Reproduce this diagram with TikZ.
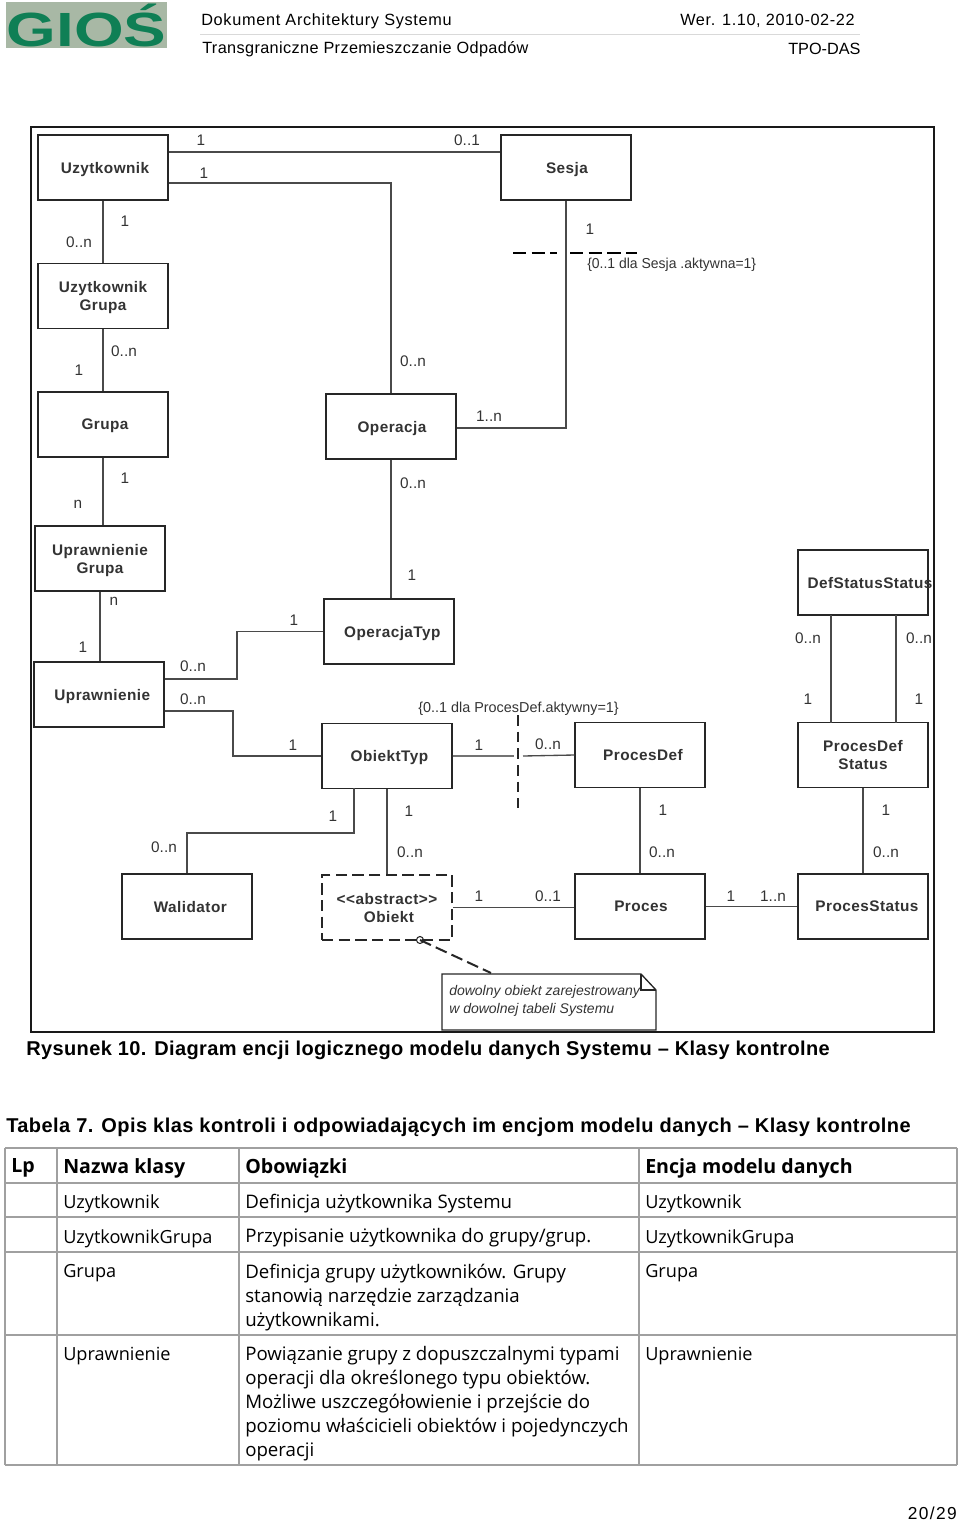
\documentclass[tikz,border=0pt]{standalone}
\usepackage{fontspec}
\setmainfont{Liberation Sans}
\newfontfamily\cellfont{Open Sans}
\definecolor{linegray}{HTML}{4A4A4A}
\definecolor{textgray}{HTML}{333333}
\definecolor{tablegray}{HTML}{A0A0A0}
\definecolor{logoback}{HTML}{A8B8A5}
\definecolor{logogreen}{HTML}{0F7F55}
\newcommand{\boxtext}[2]{\hspace*{#1pt}#2}
\tikzset{
  umlbox/.style={draw=black!85, line width=1pt, fill=white, minimum width=97.5pt, minimum height=48.75pt,
    inner sep=0pt, align=center, text=textgray, text depth=0pt,
    font=\fontsize{11.5}{13.5}\selectfont\bfseries\addfontfeature{LetterSpace=3}},
  conn/.style={draw=linegray, line width=1pt},
  mult/.style={inner sep=0pt, yshift=-.75pt, text=textgray, font=\fontsize{11.5}{13}\selectfont},
  constraint/.style={inner sep=0pt, anchor=west, yshift=-1.5pt, text=textgray, font=\fontsize{10.8}{13}\selectfont},
  plainline/.style={inner sep=0pt, anchor=west, yshift=-1.5pt, font=\fontsize{12.2}{14}\selectfont},
  titleline/.style={inner sep=0pt, anchor=west, yshift=-1.5pt, font=\fontsize{15}{18}\selectfont\bfseries\addfontfeature{LetterSpace=1.9}},
  cell/.style={inner sep=0pt, anchor=north west, align=left, font=\cellfont\fontsize{13.6}{18}\selectfont},
  dutycell/.style={cell, font=\cellfont\fontsize{14}{18}\selectfont},
  headcell/.style={inner sep=0pt, anchor=west, yshift=-1.5pt, font=\cellfont\fontsize{14.7}{18}\selectfont\bfseries},
}
\begin{document}
\begin{tikzpicture}[x=0.75pt, y=-0.75pt]
  \useasboundingbox (0,0) rectangle (960,1521);

  % header
  \node[fill=logoback, minimum width=121pt, minimum height=34.5pt, inner sep=0pt] (logoback) at (86.5,25) {};
  \node[inner sep=0pt, text=logogreen, xscale=1.33, font=\fontsize{36}{36}\selectfont\bfseries] (logo) at (logoback.center) {GIOŚ};
  \node[plainline] (doctitle) at (201,19) {\addfontfeature{LetterSpace=4.3}Dokument Architektury Systemu};
  \node[plainline] (docversion) at (680,19) {\addfontfeature{LetterSpace=3.8}Wer. 1.10, 2010-02-22};
  \node[plainline] (docname) at (202,47) {\addfontfeature{LetterSpace=2.3}Transgraniczne Przemieszczanie Odpadów};
  \node[plainline] (docshort) at (788,47) {TPO-DAS};
  \draw[black!15] (200,34) -- (860,34);

  % frame of the figure
  \draw[black!90, line width=1pt] (31,127) rectangle (934,1032);

  % classes
  \node[umlbox] (uzytkownik) at (103,167.5) {\boxtext{3}{Uzytkownik}};
  \node[umlbox] (sesja) at (566,167.5) {\boxtext{1.5}{Sesja}};
  \node[umlbox] (uzytkownikgrupa) at (103,296) {Uzytkownik\\Grupa};
  \node[umlbox] (grupa) at (103,424.5) {\boxtext{3}{Grupa}};
  \node[umlbox] (operacja) at (391,426.5) {\boxtext{1.5}{Operacja}};
  \node[umlbox] (uprawnieniegrupa) at (100,558.5) {Uprawnienie\\Grupa};
  \node[umlbox] (operacjatyp) at (389,631.5) {\boxtext{5}{OperacjaTyp}};
  \node[umlbox] (uprawnienie) at (99,694.5) {\boxtext{5}{Uprawnienie}};
  \node[umlbox] (defstatus) at (863,582.5) {\makebox[0pt][c]{\hspace{10.5pt}DefStatusStatus}};
  \node[umlbox] (obiekttyp) at (387,756) {\boxtext{3.7}{ObiektTyp}};
  \node[umlbox] (procesdef) at (640,755) {\boxtext{4.5}{ProcesDef}};
  \node[umlbox] (procesdefstatus) at (863,755) {ProcesDef\\Status};
  \node[umlbox] (walidator) at (187,906.5) {\boxtext{5}{Walidator}};
  \node[umlbox, dash pattern=on 8.5pt off 4pt, line width=1.8pt] (obiekt) at (387,907.5) {{<}{<}abstract{>}{>}\\\boxtext{3}{Obiekt}};
  \node[umlbox] (proces) at (640,906.5) {\boxtext{1.5}{Proces}};
  \node[umlbox] (processtatus) at (863,906.5) {\boxtext{6}{ProcesStatus}};

  % connectors
  \draw[conn] (uzytkownik.east |- 0,152) -- (sesja.west |- 0,152);
  \draw[conn] (uzytkownik.east |- 0,183) -| (operacja.north);
  \draw[conn] (uzytkownik) -- (uzytkownikgrupa);
  \draw[conn] (uzytkownikgrupa) -- (grupa);
  \draw[conn] (grupa) -- (grupa |- uprawnieniegrupa.north);
  \draw[conn] (uprawnieniegrupa) -- (uprawnieniegrupa |- uprawnienie.north);
  \draw[conn] (operacja.south) -- (operacja.south |- operacjatyp.north);
  \draw[conn] (sesja.south) |- (operacja.east |- 0,428);
  \draw[conn] (uprawnienie.east |- 0,679) -- (237,679) |- (operacjatyp.west);
  \draw[conn] (uprawnienie.east |- 0,711) -- (233,711) |- (obiekttyp.west);
  \draw[conn, draw=black!55] (obiekttyp.east) -- (514,756);
  \draw[conn] (523,756) -- (procesdef.west);
  \draw[conn] (procesdef) -- (proces);
  \draw[conn] (procesdefstatus) -- (processtatus);
  \draw[conn] (831,615) -- (831,723);
  \draw[conn] (896,615) -- (896,723);
  \draw[conn] (354,788) -- (354,833) -| (walidator.north);
  \draw[conn] (obiekttyp) -- (obiekt);
  \draw[conn] (obiekt.east) -- (obiekt.east -| proces.west);
  \draw[conn] (proces) -- (processtatus);

  % dashed constraints
  \draw[black, line width=1.5pt, dash pattern=on 10pt off 4pt] (513,253) -- (557,253);
  \draw[black, line width=1.5pt, dash pattern=on 10pt off 4pt] (570,253) -- (637,253);
  \draw[black!85, line width=1.6pt, dash pattern=on 8pt off 4.5pt] (518,715) -- (518,808);
  \node[constraint, xscale=.97] (sesjarule) at (587,263) {\{0..1 dla Sesja .aktywna=1\}};
  \node[constraint] (procesrule) at (418,707) {\{0..1 dla ProcesDef.aktywny=1\}};

  % multiplicities
  \foreach \lx/\ly/\ltext [count=\li] in {201/139/1, 467/139/0..1, 204/172/1, 125/220/1, 79/241/0..n,
      124/350/0..n, 79/369/1, 413/360/0..n, 489/415/1..n, 590/228/1, 413/482/0..n, 125/477/1,
      78/503/n, 114/600/n, 83/646/1, 412/574/1, 294/619/1, 193/665/0..n, 193/698/0..n, 293/744/1,
      479/744/1, 548/743/0..n, 808/637/0..n, 919/637/0..n, 808/698/1, 919/698/1, 409/810/1, 333/815/1,
      663/809/1, 886/809/1, 164/846/0..n, 410/851/0..n, 662/851/0..n, 886/851/0..n, 479/895/1,
      548/895/0..1, 731/895/1, 773/895/1..n} {
    \node[mult] (mult\li) at (\lx,\ly) {\ltext};
  }

  % note
  \coordinate (noteanchor) at (420,940);
  \draw[black!85, line width=1pt] (442,974) -- (641,974) -- (656,990) -- (656,1030) -- (442,1030) -- cycle;
  \draw[black!85, line width=.8pt] (641,974) -- (641,990) -- (656,990);
  \node[inner sep=0pt, anchor=west, align=left, text=textgray, font=\fontsize{10.5}{14}\selectfont\itshape] (notetext) at (449,1001) {dowolny obiekt zarejestrowany\\w dowolnej tabeli Systemu};
  \draw[black!85, line width=1.5pt, dash pattern=on 9pt off 4pt] (noteanchor) -- (491,973);
  \draw[black!85, line width=.8pt] (noteanchor) circle (3.5);

  % captions
  \node[titleline] (figcaption) at (26,1048) {Rysunek 10. Diagram encji logicznego modelu danych Systemu – Klasy kontrolne};
  \node[titleline, font=\fontsize{15}{18}\selectfont\bfseries\addfontfeature{LetterSpace=2.2}] (tabcaption) at (6,1125) {Tabela 7. Opis klas kontroli i odpowiadających im encjom modelu danych – Klasy kontrolne};

  % table lines
  \foreach \ty in {1148, 1183, 1217, 1252, 1335, 1465} {
    \draw[tablegray, line width=.8pt] (5,\ty) -- (957,\ty);
  }
  \foreach \tx in {5, 57, 239, 639, 957} {
    \draw[tablegray, line width=.8pt] (\tx,1148) -- (\tx,1465);
  }

  % table texts
  \node[headcell] (headlp) at (11,1166) {Lp};
  \node[headcell] (headname) at (63,1166) {Nazwa klasy};
  \node[headcell] (headduty) at (245,1166) {Obowiązki};
  \node[headcell] (headentity) at (645,1166) {Encja modelu danych};
  \node[cell] (name1) at (63,1194) {Uzytkownik};
  \node[dutycell] (duty1) at (245,1194) {Definicja użytkownika Systemu};
  \node[cell] (entity1) at (645,1194) {Uzytkownik};
  \node[cell] (name2) at (63,1229) {UzytkownikGrupa};
  \node[dutycell] (duty2) at (245,1228.500) {Przypisanie użytkownika do grupy/grup.};
  \node[cell] (entity2) at (645,1229) {UzytkownikGrupa};
  \node[cell] (name3) at (63,1264.500) {Grupa};
  \node[dutycell] (duty3) at (245,1264) {Definicja grupy użytkowników. Grupy\\stanowią narzędzie zarządzania\\użytkownikami.};
  \node[cell] (entity3) at (645,1264.500) {Grupa};
  \node[cell] (name4) at (63,1347) {Uprawnienie};
  \node[dutycell] (duty4) at (245,1346) {Powiązanie grupy z dopuszczalnymi typami\\operacji dla określonego typu obiektów.\\Możliwe uszczegółowienie i przejście do\\poziomu właścicieli obiektów i pojedynczych\\operacji};
  \node[cell] (entity4) at (645,1347) {Uprawnienie};

  \node[inner sep=0pt, anchor=east, text depth=0pt, font=\fontsize{13}{15}\selectfont\addfontfeature{LetterSpace=8}] (pagenum) at (957,1513) {20/29};
\end{tikzpicture}
\end{document}
